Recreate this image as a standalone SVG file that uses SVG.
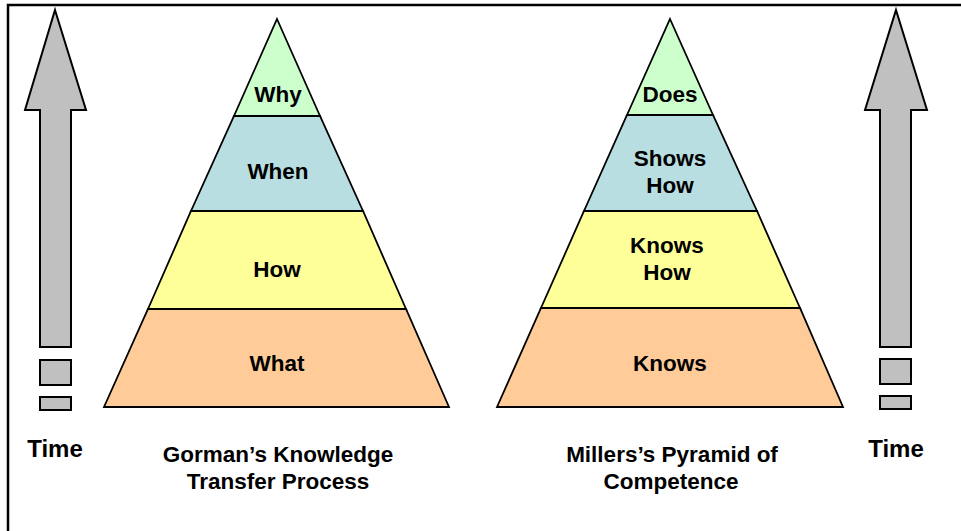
<svg xmlns="http://www.w3.org/2000/svg" width="961" height="531" viewBox="0 0 961 531">
<style>
.lvl{stroke:#000;stroke-width:1.8;stroke-linejoin:miter}
.g{fill:#CCFFCC}.b{fill:#B8DEE1}.y{fill:#FFFF99}.o{fill:#FFCC99}
.arr{fill:#C0C0C0;stroke:#000;stroke-width:2}
text{font-family:"Liberation Sans",Arial,sans-serif;font-weight:bold;fill:#000;text-anchor:middle}
.lb{font-size:22.5px}
.ti{font-size:22.5px}
.tm{font-size:24px}
</style>
<rect width="961" height="531" fill="#fff"/>
<g id="frame">
<path d="M8 531 V5 H961" fill="none" stroke="#000" stroke-width="2.5"/>
</g>
<g id="time-left">
<polygon class="arr" points="55,10 86,110 71,110 71,347 40,347 40,110 25,110"/>
<rect class="arr" x="40" y="360" width="31" height="25"/>
<rect class="arr" x="40" y="397" width="31" height="13"/>
<text class="tm" x="55" y="457">Time</text>
</g>
<g id="time-right">
<polygon class="arr" points="896,10 927,110 911,110 911,347 880,347 880,110 865,110"/>
<rect class="arr" x="880" y="359" width="31" height="25"/>
<rect class="arr" x="880" y="396" width="31" height="13"/>
<text class="tm" x="896" y="457">Time</text>
</g>
<g id="gorman">
<g id="g-why"><polygon class="lvl g" points="277,19 320,116 234,116"/><text class="lb" x="278" y="102">Why</text></g>
<g id="g-when"><polygon class="lvl b" points="234,116 320,116 363,211 191,211"/><text class="lb" x="278" y="179">When</text></g>
<g id="g-how"><polygon class="lvl y" points="191,211 363,211 406,309 148,309"/><text class="lb" x="277" y="277">How</text></g>
<g id="g-what"><polygon class="lvl o" points="148,309 406,309 449,407 104,407"/><text class="lb" x="277" y="371">What</text></g>
<text class="ti" x="278" y="462">Gorman’s Knowledge</text>
<text class="ti" x="278" y="489">Transfer Process</text>
</g>
<g id="miller">
<g id="m-does"><polygon class="lvl g" points="670,19 713,115 627,115"/><text class="lb" x="670" y="102">Does</text></g>
<g id="m-shows"><polygon class="lvl b" points="627,115 713,115 757,211 584,211"/><text class="lb" x="670" y="166">Shows</text><text class="lb" x="670" y="193">How</text></g>
<g id="m-knowshow"><polygon class="lvl y" points="584,211 757,211 800,308 541,308"/><text class="lb" x="667" y="253">Knows</text><text class="lb" x="667" y="280">How</text></g>
<g id="m-knows"><polygon class="lvl o" points="541,308 800,308 843,407 497,407"/><text class="lb" x="670" y="371">Knows</text></g>
<text class="ti" x="672" y="462">Millers’s Pyramid of</text>
<text class="ti" x="671" y="489">Competence</text>
</g>
<g id="connectors"></g>
</svg>
